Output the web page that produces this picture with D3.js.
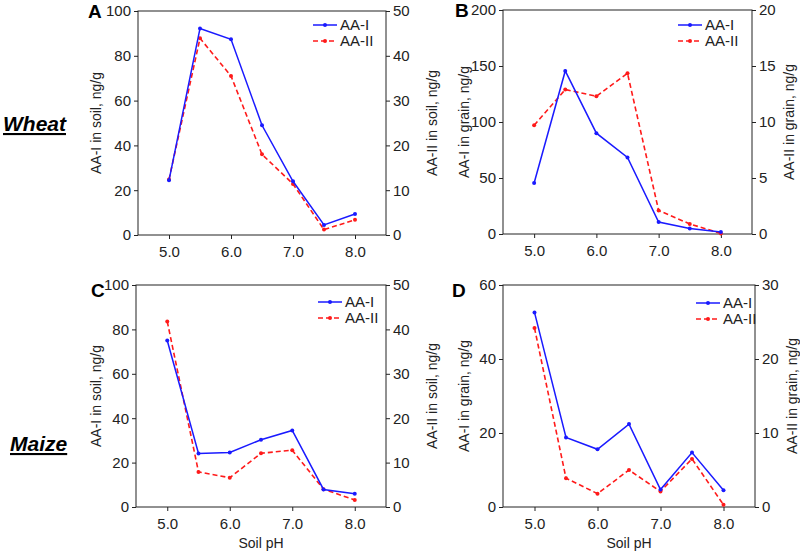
<!DOCTYPE html>
<html>
<head>
<meta charset="utf-8">
<script src="https://cdn.jsdelivr.net/npm/d3@7/dist/d3.min.js"></script>
<style>
  body { margin: 0; background: #fff; }
  svg { display: block; font-family: "Liberation Sans", Arial, sans-serif; }
  .axis text { font-size: 15px; fill: #222; }
  .axis path, .axis line { stroke: #222; stroke-width: 1; }
</style>
</head>
<body>
<div id="chart"></div>
<script>
// soil pH values (x)
const phValues = [5.0, 5.5, 6.0, 6.5, 7.0, 7.5, 8.0];
const xTicks = [5.0, 6.0, 7.0, 8.0];

// Wheat - soil (A)
const wheatSoilAA1 = [24.4, 92.2, 87.4, 49.0, 24.0, 4.5, 9.4];
const wheatSoilAA2 = [12.4, 43.9, 35.5, 18.0, 11.4, 1.2, 3.4];
// Wheat - grain (B)
const wheatGrainAA1 = [45.5, 145.6, 90.0, 68.4, 10.7, 5.0, 1.8];
const wheatGrainAA2 = [9.7, 12.9, 12.3, 14.35, 2.1, 0.9, 0.05];
// Maize - soil (C)
const maizeSoilAA1 = [75.0, 24.1, 24.6, 30.3, 34.5, 7.9, 6.0];
const maizeSoilAA2 = [41.8, 7.9, 6.6, 12.1, 12.8, 4.0, 1.6];
// Maize - grain (D)
const maizeGrainAA1 = [52.6, 18.8, 15.6, 22.4, 4.7, 14.7, 4.5];
const maizeGrainAA2 = [24.2, 3.9, 1.8, 5.0, 2.1, 6.5, 0.3];

// y tick labels
const soilTicksL = [0, 20, 40, 60, 80, 100];
const soilTicksR = [0, 10, 20, 30, 40, 50];
const wheatGrainTicksL = [0, 50, 100, 150, 200];
const wheatGrainTicksR = [0, 5, 10, 15, 20];
const maizeGrainTicksL = [0, 20, 40, 60];
const maizeGrainTicksR = [0, 10, 20, 30];

const seriesNames = ["AA-I", "AA-II"];

const width = 800, height = 552;

const svg = d3.select("#chart").append("svg")
    .attr("width", width)
    .attr("height", height);

// panel layout
const panels = [
    { letter: "A", left: 138, right: 386, top: 11, bottom: 235,
      ticksL: soilTicksL, ticksR: soilTicksR,
      yTitle: ["AA-I in soil, ng/g", "AA-II in soil, ng/g"], a1: wheatSoilAA1, a2: wheatSoilAA2,
      leftTitleX: 96, rightTitleX: 432, letterX: 88, letterY: 18, legX: 313, legY: 25, xTitle: false },
    { letter: "B", left: 503, right: 752, top: 10, bottom: 234,
      ticksL: wheatGrainTicksL, ticksR: wheatGrainTicksR,
      yTitle: ["AA-I in grain, ng/g", "AA-II in grain, ng/g"], a1: wheatGrainAA1, a2: wheatGrainAA2,
      leftTitleX: 464, rightTitleX: 789, letterX: 455, letterY: 17, legX: 678, legY: 25, xTitle: false },
    { letter: "C", left: 136, right: 386, top: 285, bottom: 507,
      ticksL: soilTicksL, ticksR: soilTicksR,
      yTitle: ["AA-I in soil, ng/g", "AA-II in soil, ng/g"], a1: maizeSoilAA1, a2: maizeSoilAA2,
      leftTitleX: 96, rightTitleX: 432, letterX: 91, letterY: 297, legX: 318, legY: 302, xTitle: true },
    { letter: "D", left: 503, right: 755, top: 285, bottom: 507,
      ticksL: maizeGrainTicksL, ticksR: maizeGrainTicksR,
      yTitle: ["AA-I in grain, ng/g", "AA-II in grain, ng/g"], a1: maizeGrainAA1, a2: maizeGrainAA2,
      leftTitleX: 464, rightTitleX: 792, letterX: 452, letterY: 297, legX: 696, legY: 303, xTitle: true }
];

panels.forEach(p => {
    const g = svg.append("g");
    const x = d3.scaleLinear().domain([4.5, 8.5]).range([p.left, p.right]);
    const yL = d3.scaleLinear().domain([0, d3.max(p.ticksL)]).range([p.bottom, p.top]);
    const yR = d3.scaleLinear().domain([0, d3.max(p.ticksR)]).range([p.bottom, p.top]);

    // frame
    g.append("rect")
        .attr("x", p.left).attr("y", p.top)
        .attr("width", p.right - p.left).attr("height", p.bottom - p.top)
        .attr("fill", "none").attr("stroke", "#222").attr("stroke-width", 1);

    g.append("g").attr("class", "axis")
        .attr("transform", `translate(0,${p.bottom})`)
        .call(d3.axisBottom(x).tickValues(xTicks).tickFormat(d3.format(".1f")).tickSizeInner(4).tickSizeOuter(0))
        .call(s => s.select(".domain").remove())
        .selectAll("text").attr("dy", "1.0em");

    g.append("g").attr("class", "axis")
        .attr("transform", `translate(${p.left},0)`)
        .call(d3.axisLeft(yL).tickValues(p.ticksL).tickSizeInner(4).tickSizeOuter(0))
        .call(s => s.select(".domain").remove());

    g.append("g").attr("class", "axis")
        .attr("transform", `translate(${p.right},0)`)
        .call(d3.axisRight(yR).tickValues(p.ticksR).tickSizeInner(4).tickSizeOuter(0))
        .call(s => s.select(".domain").remove());

    const midY = (p.top + p.bottom) / 2;
    g.append("text")
        .attr("transform", `translate(${p.leftTitleX},${midY}) rotate(-90)`)
        .attr("text-anchor", "middle").attr("dy", "0.35em")
        .style("font-size", "14px").attr("fill", "#222")
        .text(p.yTitle[0]);
    g.append("text")
        .attr("transform", `translate(${p.rightTitleX},${midY}) rotate(-90)`)
        .attr("text-anchor", "middle").attr("dy", "0.35em")
        .style("font-size", "14px").attr("fill", "#222")
        .text(p.yTitle[1]);

    if (p.xTitle) {
        g.append("text")
            .attr("x", (p.left + p.right) / 2).attr("y", p.bottom + 41)
            .attr("text-anchor", "middle")
            .style("font-size", "14px").attr("fill", "#222")
            .text("Soil pH");
    }

    // panel letter
    g.append("text")
        .attr("x", p.letterX).attr("y", p.letterY)
        .style("font-size", "19px").style("font-weight", "bold")
        .text(p.letter);

    // series
    const data1 = phValues.map((v, i) => [v, p.a1[i]]);
    const data2 = phValues.map((v, i) => [v, p.a2[i]]);

    g.append("path")
        .attr("d", d3.line().x(d => x(d[0])).y(d => yR(d[1]))(data2))
        .attr("fill", "none").attr("stroke", "#ff1a1a")
        .attr("stroke-width", 1.6).attr("stroke-dasharray", "5,3");
    g.selectAll(".pt2").data(data2).enter().append("circle")
        .attr("cx", d => x(d[0])).attr("cy", d => yR(d[1]))
        .attr("r", 2).attr("fill", "#ff1a1a");

    g.append("path")
        .attr("d", d3.line().x(d => x(d[0])).y(d => yL(d[1]))(data1))
        .attr("fill", "none").attr("stroke", "#1a1aff").attr("stroke-width", 1.5);
    g.selectAll(".pt1").data(data1).enter().append("circle")
        .attr("cx", d => x(d[0])).attr("cy", d => yL(d[1]))
        .attr("r", 2).attr("fill", "#1a1aff");

    // legend
    const lg = g.append("g").attr("transform", `translate(${p.legX},${p.legY})`);
    seriesNames.forEach((name, i) => {
        const yy = i * 16;
        const col = i === 0 ? "#1a1aff" : "#ff1a1a";
        lg.append("line").attr("x1", 0).attr("x2", 24).attr("y1", yy).attr("y2", yy)
            .attr("stroke", col).attr("stroke-width", 1.5)
            .attr("stroke-dasharray", i === 0 ? null : "5,3");
        lg.append("circle").attr("cx", 12).attr("cy", yy).attr("r", 2).attr("fill", col);
        lg.append("text").attr("x", 27).attr("y", yy).attr("dy", "0.35em")
            .style("font-size", "15px").attr("fill", "#222").text(name);
    });
});

// row labels
[["Wheat", 3, 131], ["Maize", 10, 451]].forEach(([t, xx, yy]) => {
    svg.append("text")
        .attr("x", xx).attr("y", yy)
        .style("font-size", "21px").style("font-weight", "bold").style("font-style", "italic")
        .style("text-decoration", "underline")
        .text(t);
});
</script>
</body>
</html>
